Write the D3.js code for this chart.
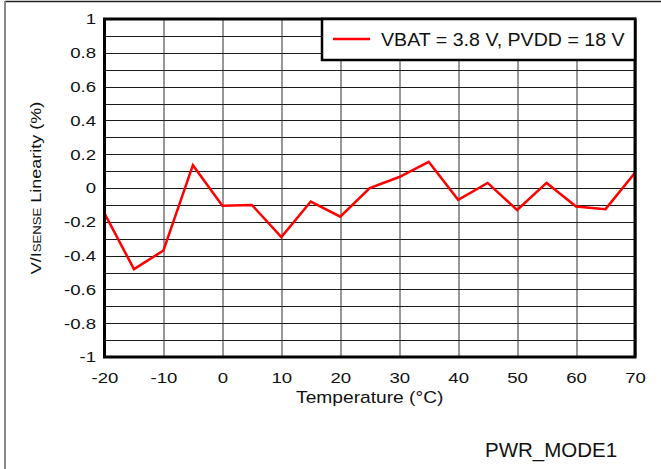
<!DOCTYPE html>
<html>
<head>
<meta charset="utf-8">
<script src="https://cdn.jsdelivr.net/npm/d3@7"></script>
<style>
  body { margin: 0; background: #fff; }
  svg { display: block; font-family: "Liberation Sans", Arial, sans-serif; }
</style>
</head>
<body>
<div id="chart"></div>
<script>
// temperature (°C) and linearity (%)
var temps = [-20, -15, -10, -5, 0, 5, 10, 15, 20, 25, 30, 35, 40, 45, 50, 55, 60, 65, 70];
var linearity = [-0.15, -0.48, -0.37, 0.135, -0.105, -0.10, -0.29, -0.08, -0.17, 0.0, 0.065, 0.155, -0.07, 0.03, -0.13, 0.03, -0.11, -0.125, 0.09];

var xTicks = [-20, -10, 0, 10, 20, 30, 40, 50, 60, 70];
var xTickLabels = ["-20", "-10", "0", "10", "20", "30", "40", "50", "60", "70"];
var yTicks = [-1, -0.8, -0.6, -0.4, -0.2, 0, 0.2, 0.4, 0.6, 0.8, 1];
var yTickLabels = ["-1", "-0.8", "-0.6", "-0.4", "-0.2", "0", "0.2", "0.4", "0.6", "0.8", "1"];
var yGrid = d3.range(-10, 11).map(d => d / 10);

var legendLabel = "VBAT = 3.8 V, PVDD = 18 V";

const W = 661, H = 469;
const margin = {top: 19, right: 26, bottom: 112, left: 104.5};
const width = W - margin.left - margin.right,
      height = H - margin.top - margin.bottom;
const sx = 1.2; // the original text is a bit stretched sideways

const svg = d3.select("#chart").append("svg")
  .attr("width", W)
  .attr("height", H);

// outer frame
svg.append("line").attr("x1", 5).attr("x2", W).attr("y1", 1.5).attr("y2", 1.5)
  .attr("stroke", "#222").attr("stroke-width", 1.5);
svg.append("line").attr("x1", 5).attr("x2", 5).attr("y1", 1).attr("y2", H)
  .attr("stroke", "#888").attr("stroke-width", 2);

const g = svg.append("g").attr("transform", `translate(${margin.left},${margin.top})`);

const x = d3.scaleLinear().domain([-20, 70]).range([0, width]);
const y = d3.scaleLinear().domain([-1, 1]).range([height, 0]);

// grid
g.append("g").selectAll("line").data(yGrid).join("line")
  .attr("x1", 0).attr("x2", width)
  .attr("y1", d => Math.round(y(d)) + 0.5).attr("y2", d => Math.round(y(d)) + 0.5)
  .attr("stroke", "#1a1a1a").attr("stroke-width", 1);
g.append("g").selectAll("line").data(xTicks).join("line")
  .attr("y1", 0).attr("y2", height)
  .attr("x1", d => Math.round(x(d)) + 0.5).attr("x2", d => Math.round(x(d)) + 0.5)
  .attr("stroke", "#333").attr("stroke-width", 1);

// axes
const xAxis = g.append("g").attr("transform", `translate(0,${height})`)
  .call(d3.axisBottom(x).tickValues(xTicks).tickSize(0).tickPadding(15)
    .tickFormat((d, i) => xTickLabels[i]));
const yAxis = g.append("g")
  .call(d3.axisLeft(y).tickValues(yTicks).tickSize(0).tickPadding(7)
    .tickFormat((d, i) => yTickLabels[i]));
[xAxis, yAxis].forEach(a => {
  a.select(".domain").remove();
  a.selectAll("text").attr("font-size", 15.5).attr("fill", "#111")
    .attr("transform", `scale(${sx},1)`)
    .style("font-family", "'Liberation Sans', Arial, sans-serif");
});

// data line
const line = d3.line().x((d, i) => x(temps[i])).y(d => y(d));
g.append("path").datum(linearity)
  .attr("fill", "none").attr("stroke", "#ff0000").attr("stroke-width", 2.5)
  .attr("stroke-linejoin", "miter")
  .attr("d", line);

// plot border
g.append("rect").attr("x", 0).attr("y", 0).attr("width", width).attr("height", height)
  .attr("fill", "none").attr("stroke", "#000").attr("stroke-width", 3);

// legend
const lg = g.append("g").attr("transform", `translate(${322 - margin.left},0)`);
lg.append("rect").attr("x", 0).attr("y", 0).attr("width", width - (322 - margin.left)).attr("height", 41)
  .attr("fill", "#fff").attr("stroke", "#000").attr("stroke-width", 2.5);
lg.append("line").attr("x1", 11).attr("x2", 48).attr("y1", 20).attr("y2", 20)
  .attr("stroke", "#ff0000").attr("stroke-width", 2.5);
lg.append("text").attr("transform", "translate(59,26.5) scale(1.06,1)")
  .attr("font-size", 18.5).attr("fill", "#111")
  .text(legendLabel);

// axis titles
g.append("text").attr("transform", `translate(${width / 2},384) scale(${sx},1)`)
  .attr("text-anchor", "middle")
  .attr("font-size", 16).attr("fill", "#111").text("Temperature (°C)");

const yt = svg.append("text")
  .attr("transform", `translate(41,${margin.top + height / 2}) rotate(-90) scale(${sx},1)`)
  .attr("text-anchor", "middle").attr("font-size", 15).attr("fill", "#111");
yt.append("tspan").text("V/I");
yt.append("tspan").attr("font-size", 11).text("SENSE");
yt.append("tspan").text(" Linearity (%)");

svg.append("text").attr("x", 485).attr("y", 456.5).attr("font-size", 20.5).attr("fill", "#111")
  .text("PWR_MODE1");
</script>
</body>
</html>
